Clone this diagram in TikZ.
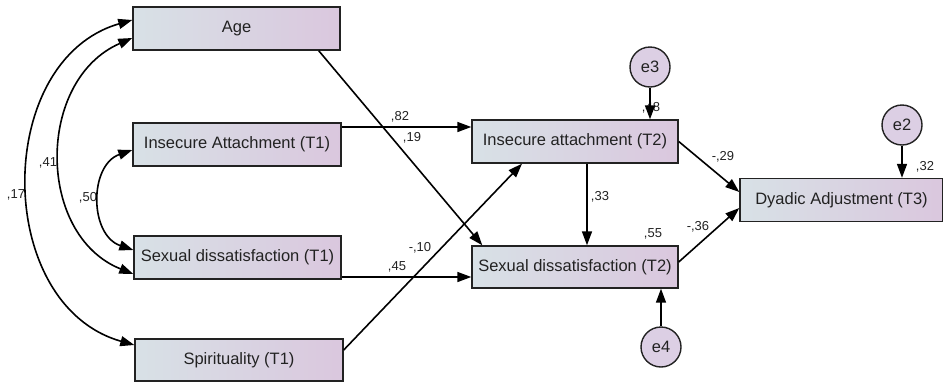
\documentclass[tikz,border=0pt]{standalone}
\usepackage{fontspec}
\setmainfont{Liberation Sans}
\usetikzlibrary{arrows.meta}
\definecolor{boxL}{HTML}{D8E1E6}
\definecolor{boxR}{HTML}{DAC7DE}
\definecolor{circ}{HTML}{DCCFE4}
\definecolor{ink}{HTML}{222222}
\tikzset{
  var/.style={draw=ink, line width=1.4pt, rectangle, left color=boxL, right color=boxR,
    minimum height=43pt, inner sep=0pt, font=\fontsize{16.5}{19}\selectfont, text=ink},
  err/.style={draw=ink, line width=1.4pt, circle, fill=circ, minimum size=40pt, inner sep=0pt,
    font=\fontsize{16.5}{19}\selectfont, text=ink},
  arr/.style={draw=black, line width=1.6pt, -{Triangle[length=14pt,width=10pt]}},
  biarr/.style={draw=black, line width=1.6pt, {Triangle[length=14pt,width=10pt]}-{Triangle[length=14pt,width=10pt]}},
  coef/.style={font=\fontsize{13}{15}\selectfont, text=ink, inner sep=0pt}
}
\begin{document}
\begin{tikzpicture}[x=1pt,y=-1pt]
\useasboundingbox (0,0) rectangle (943,381);
% boxes
\node[var, minimum width=207pt] (Age) at (236.5,28.5) {Age};
\node[var, minimum width=208pt] (IA1) at (237,144.5) {Insecure Attachment (T1)};
\node[var, minimum width=207pt] (SD1) at (237.5,257.5) {Sexual dissatisfaction (T1)};
\node[var, minimum width=208pt, minimum height=42pt] (SP1) at (239,360) {Spirituality (T1)};
\node[var, minimum width=206pt] (IA2) at (575,141.5) {Insecure attachment (T2)};
\node[var, minimum width=206pt, minimum height=42pt] (SD2) at (575,267) {Sexual dissatisfaction (T2)};
\node[var, minimum width=203pt] (DA3) at (841.5,200) {Dyadic Adjustment (T3)};
% errors
\node[err] (e3) at (650,67) {e3};
\node[err] (e2) at (902,125) {e2};
\node[err] (e4) at (661,347) {e4};
% coefficient labels
\node[coef] (l17) at (16,195) {,17};
\node[coef] (l41) at (48,163) {,41};
\node[coef] (l50) at (88,198) {,50};
\node[coef] (l82) at (400,117) {,82};
\node[coef] (l19) at (412,138) {,19};
\node[coef] (l33) at (600,197) {,33};
\node[coef] (l55) at (653,234) {,55};
\node[coef] (l36) at (698,227) {-,36};
\node[coef] (l10) at (420,248) {-,10};
\node[coef] (l45) at (397,267) {,45};
\node[coef] (l48) at (651,108) {,48};
\node[coef] (l29) at (723,157) {-,29};
\node[coef] (l32) at (925,167) {,32};
% paths
\draw[arr] ([yshift=17.5pt]IA1.east) -- ([yshift=17.5pt]IA1.east -| IA2.west);
\draw[arr] ([yshift=-19.5pt]SD1.east) -- ([yshift=-19.5pt]SD1.east -| SD2.west);
\draw[arr] ([xshift=-22pt]Age.south east) -- ([xshift=11pt]SD2.north west);
\draw[arr] ([yshift=10pt]SP1.east) -- ([xshift=-53pt]IA2.south);
\draw[arr] ([xshift=12pt]IA2.south) -- ([xshift=12pt]SD2.north);
\draw[arr] (IA2.east) -- ([yshift=8pt]DA3.west);
\draw[arr] ([yshift=5pt]SD2.east) -- ([yshift=-8pt]DA3.west);
\draw[arr] (e3.south) -- (e3.south |- IA2.north);
\draw[arr] (e2.south) -- (e2.south |- DA3.north);
\draw[arr] (e4.north) -- (e4.north |- SD2.south);
% covariances
\draw[biarr] ([yshift=-9.5pt]Age.west) .. controls (36,80) and (36,235) .. ([yshift=-16.5pt]SD1.west);
\draw[biarr] ([yshift=8.5pt]Age.west) .. controls (-7,60) and (-7,305) .. ([yshift=15pt]SP1.west);
\draw[biarr] ([yshift=-5.5pt]IA1.west) .. controls (89,165) and (89,235) .. ([yshift=7.5pt]SD1.west);
\end{tikzpicture}
\end{document}
